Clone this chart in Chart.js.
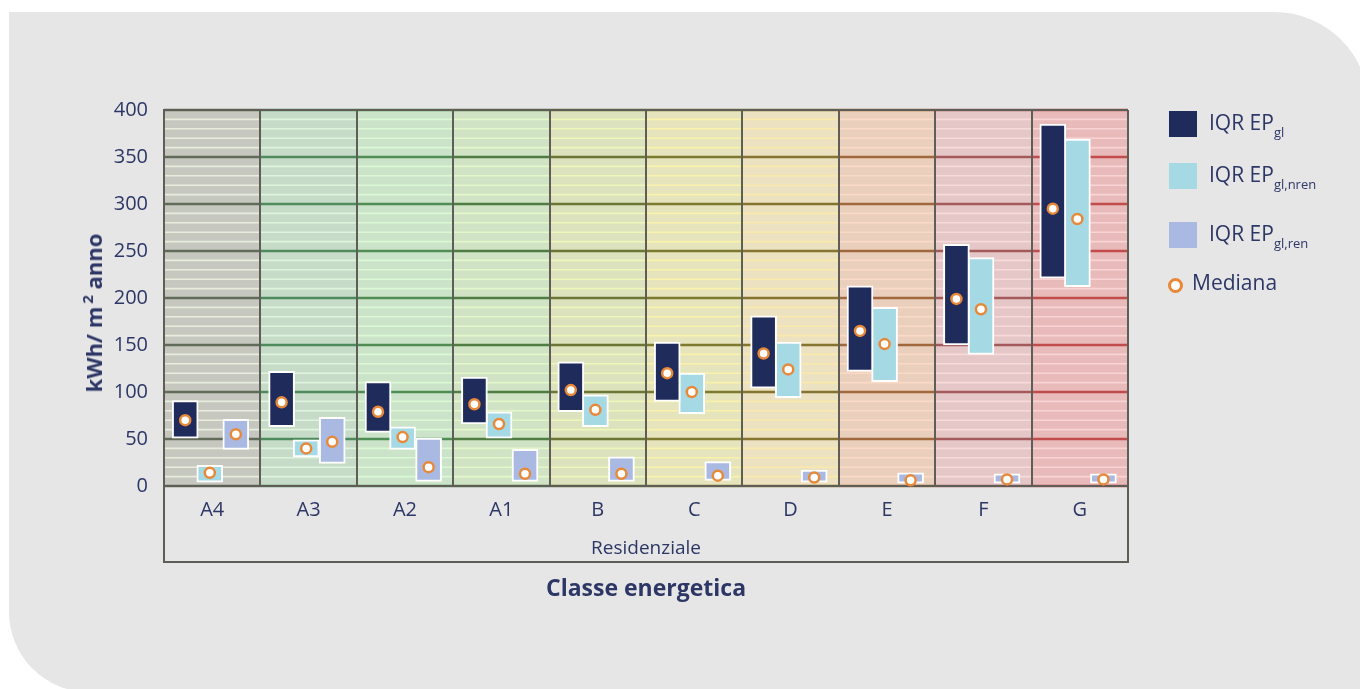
<!DOCTYPE html>
<html>
<head>
<meta charset="utf-8">
<script src="https://cdn.jsdelivr.net/npm/chart.js@4.4.0/dist/chart.umd.min.js"></script>
<style>
body { margin: 0; background: #fff; width: 1360px; height: 689px; overflow: hidden; position: relative; font-family: "Open Sans", sans-serif; }
#card { position: absolute; left: 9px; top: 12px; width: 1360px; height: 680px; background: #e6e6e6; border-radius: 0 95px 0 80px; }
#wrap { position: absolute; left: 0; top: 0; width: 1360px; height: 689px; }
#ytitle { position: absolute; left: 93px; top: 313px; transform: translate(-50%, -50%) rotate(-90deg); color: #2d3766; font-size: 22px; font-weight: bold; white-space: nowrap; line-height: 22px; }
#ytitle sup { font-size: 15px; vertical-align: 9px; line-height: 0; margin-left: 3px; }
#legend { position: absolute; left: 1169px; top: 0; color: #2d3766; font-size: 21px; line-height: 21px; }
#legend .sw { position: absolute; left: 0; width: 28px; height: 26px; }
#legend .tx { position: absolute; left: 40px; white-space: nowrap; }
#legend sub { font-size: 13px; vertical-align: -7px; line-height: 0; }
#legend .dot { position: absolute; left: -1px; width: 9px; height: 9px; border: 3px solid #e8893a; border-radius: 50%; background: #fff; }
</style>
</head>
<body>
<div id="card"></div>
<div id="wrap"><canvas id="chart"></canvas></div>
<div id="ytitle">kWh/ m<sup>2</sup> anno</div>
<div id="legend">
  <div class="sw" style="top:111px;background:#1f2b5b"></div>
  <div class="tx" style="top:112px">IQR EP<sub>gl</sub></div>
  <div class="sw" style="top:163px;background:#a5d9e4"></div>
  <div class="tx" style="top:164px">IQR EP<sub>gl,nren</sub></div>
  <div class="sw" style="top:222px;background:#a9b9e2"></div>
  <div class="tx" style="top:223px">IQR EP<sub>gl,ren</sub></div>
  <div class="dot" style="top:278px"></div>
  <div class="tx" style="top:272px;left:23px">Mediana</div>
</div>
<script>
const categories = ['A4', 'A3', 'A2', 'A1', 'B', 'C', 'D', 'E', 'F', 'G'];

// EPgl interquartile range and median
const glLow  = [51, 63, 57, 66, 79, 90, 104, 122, 150, 221];
const glHigh = [91, 122, 111, 116, 132, 153, 181, 213, 257, 385];
const glMed  = [70, 89, 79, 87, 102, 120, 141, 165, 199, 295];

// EPgl,nren
const nrenLow  = [4, 31, 39, 51, 63, 77, 94, 111, 140, 212];
const nrenHigh = [22, 49, 63, 79, 97, 120, 153, 190, 243, 369];
const nrenMed  = [14, 40, 52, 66, 81, 100, 124, 151, 188, 284];

// EPgl,ren
const renLow  = [39, 24, 5, 5, 5, 6, 4, 3, 3, 3];
const renHigh = [71, 73, 51, 39, 31, 26, 17, 14, 13, 13];
const renMed  = [55, 47, 20, 13, 13, 11, 9, 6, 7, 7];

const yTicks = [0, 50, 100, 150, 200, 250, 300, 350, 400];

// colours of the energy class bands
const bandFill  = ['#c6c8bf', '#c7dcc8', '#cbe4c9', '#d0e3c4', '#dbe2bd', '#e6e4bd', '#ece1c0', '#eacfbd', '#e6c7c8', '#e9baba'];
const bandMinor = ['#e8ecdd', '#e0f3dd', '#dbf8d4', '#e4f7ca', '#f0f6ba', '#f8f2aa', '#f9e9aa', '#f9dac6', '#f7dada', '#f9d4d4'];
const bandMajor = ['#626b5a', '#4e8a5c', '#4f8d54', '#4e7c42', '#6b7536', '#7b7a2f', '#84742f', '#a0683c', '#a45a5a', '#c24b4b'];

const TEXT = '#2d3766';
const LINE = '#5e5e56';
const FONT = '"Open Sans", sans-serif';
// where the three boxes sit inside one class column (fraction of the column)
const SLOT = [0.22, 0.475, 0.745];

function boxes(low, high, k) {
    return low.map((l, i) => ({x: i + SLOT[k], y: [l, high[i]]}));
}

function medians(med, k) {
    return med.map((m, i) => ({x: i + SLOT[k], y: m}));
}

// draws the coloured bands with their horizontal stripes, and the box under the axis
const bandsPlugin = {
    id: 'bands',
    beforeDraw(chart) {
        const {ctx, chartArea: a, scales: {y}} = chart;
        const w = a.width / categories.length;
        ctx.save();
        categories.forEach((c, i) => {
            const x0 = a.left + i * w;
            ctx.fillStyle = bandFill[i];
            ctx.fillRect(x0, a.top, w, a.height);
            for (let v = 0; v <= 400; v += 10) {
                const py = y.getPixelForValue(v);
                const major = v % 50 == 0;
                ctx.strokeStyle = major ? bandMajor[i] : bandMinor[i];
                ctx.lineWidth = major ? 2.4 : 1.6;
                ctx.beginPath();
                ctx.moveTo(x0, py);
                ctx.lineTo(x0 + w, py);
                ctx.stroke();
            }
        });
        ctx.restore();
    },
    afterDraw(chart) {
        const {ctx, chartArea: a, scales: {x}} = chart;
        ctx.save();
        ctx.strokeStyle = LINE;
        ctx.lineWidth = 2;
        ctx.beginPath();
        ctx.moveTo(a.left, a.top);
        ctx.lineTo(a.right, a.top);
        ctx.moveTo(a.left, a.bottom);
        ctx.lineTo(a.left, x.bottom - 1);
        ctx.lineTo(a.right, x.bottom - 1);
        ctx.lineTo(a.right, a.bottom);
        ctx.stroke();
        ctx.restore();
    }
};

const medianStyle = {
    type: 'line',
    xAxisID: 'xm',
    showLine: false,
    pointRadius: 5,
    pointBorderWidth: 2.5,
    pointBorderColor: '#e8893a',
    pointBackgroundColor: '#ffffff',
    clip: false,
    order: 0
};

const barStyle = {
    xAxisID: 'xm',
    grouped: false,
    barThickness: 26,
    borderColor: '#ffffff',
    borderWidth: 2,
    borderSkipped: false,
    order: 1
};

new Chart(document.getElementById('chart'), {
    type: 'bar',
    data: {
        labels: categories,
        datasets: [
            {...medianStyle, label: 'Mediana gl', data: medians(glMed, 0)},
            {...medianStyle, label: 'Mediana gl,nren', data: medians(nrenMed, 1)},
            {...medianStyle, label: 'Mediana gl,ren', data: medians(renMed, 2)},
            {...barStyle, label: 'IQR EPgl', data: boxes(glLow, glHigh, 0), backgroundColor: '#1f2b5b'},
            {...barStyle, label: 'IQR EPgl,nren', data: boxes(nrenLow, nrenHigh, 1), backgroundColor: '#a5d9e4'},
            {...barStyle, label: 'IQR EPgl,ren', data: boxes(renLow, renHigh, 2), backgroundColor: '#a9b9e2'}
        ]
    },
    options: {
        responsive: true,
        maintainAspectRatio: false,
        animation: false,
        layout: {padding: {left: 80, top: 110, right: 232, bottom: 77}},
        plugins: {
            legend: {display: false},
            tooltip: {enabled: false}
        },
        scales: {
            y: {
                min: 0,
                max: 400,
                afterBuildTicks: (s) => { s.ticks = yTicks.map(v => ({value: v})); },
                afterFit: (s) => { s.width = 84; },
                grid: {display: false, drawTicks: false},
                border: {display: true, color: LINE, width: 2},
                ticks: {padding: 16, color: TEXT, font: {family: FONT, size: 20}}
            },
            x: {
                type: 'category',
                offset: true,
                afterFit: (s) => { s.height = 77; },
                grid: {color: LINE, lineWidth: 2, drawTicks: false, offset: true},
                border: {display: true, color: LINE, width: 2},
                ticks: {padding: 12, color: TEXT, font: {family: FONT, size: 20}},
                title: {display: true, text: 'Residenziale', color: TEXT, padding: {top: 0, bottom: 3}, font: {family: FONT, size: 19}}
            },
            x2: {
                type: 'category',
                labels: categories,
                position: 'bottom',
                afterFit: (s) => { s.height = 49; },
                grid: {display: false, drawTicks: false},
                border: {display: false},
                ticks: {display: false},
                title: {display: true, text: 'Classe energetica', color: TEXT, padding: {top: 0, bottom: 9}, font: {family: FONT, size: 23, weight: 'bold'}}
            },
            xm: {
                type: 'linear',
                min: 0,
                max: 10,
                offset: false,
                display: false
            }
        }
    },
    plugins: [bandsPlugin]
});
</script>
</body>
</html>
